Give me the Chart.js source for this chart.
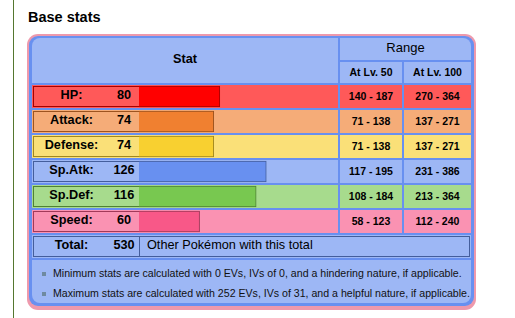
<!DOCTYPE html>
<html>
<head>
<meta charset="utf-8">
<script src="https://cdn.jsdelivr.net/npm/chart.js@4.4.1/dist/chart.umd.min.js"></script>
<style>
  body { margin: 0; background: #fff; font-family: "Liberation Sans", Arial, sans-serif; color: #000; }
  #page { position: relative; width: 515px; height: 318px; overflow: hidden; }
  .abs { position: absolute; box-sizing: border-box; white-space: nowrap; }
  .lbl { font-weight: bold; font-size: 12.7px; line-height: 21px; text-align: center; }
  .rng { font-weight: bold; font-size: 10.5px; line-height: 23px; text-align: center; }
  .note { font-size: 10.6px; line-height: 20px; color: #111; }
</style>
</head>
<body>
<div id="page">
  <div class="abs" style="left:13px;top:0;width:1px;height:318px;background:#55772f"></div>
  <div class="abs" style="left:28px;top:0;font-weight:bold;font-size:14.5px;line-height:34px">Base stats</div>

  <!-- table frame -->
  <div class="abs" style="left:27px;top:34px;width:449px;height:276px;background:#EE99AC;border-radius:11px"></div>
  <div class="abs" style="left:29px;top:36px;width:445px;height:270px;background:#6890F0;border-radius:9px"></div>

  <!-- header -->
  <div class="abs lbl" style="left:32px;top:38px;width:306px;height:45px;line-height:43px;background:#9DB7F5;border-top-left-radius:8px">Stat</div>
  <div class="abs" style="left:340px;top:38px;width:131px;height:22px;background:#9DB7F5;border-top-right-radius:8px;font-size:13px;line-height:19px;text-align:center">Range</div>
  <div class="abs rng" style="left:340px;top:62px;width:62px;height:21px;background:#9DB7F5;line-height:21px">At Lv. 50</div>
  <div class="abs rng" style="left:404px;top:62px;width:67px;height:21px;background:#9DB7F5;line-height:21px">At Lv. 100</div>

  <div id="rows"></div>

  <!-- total row -->
  <div class="abs" style="left:32px;top:235px;width:439px;height:23px;background:#9DB7F5"></div>
  <div class="abs" style="left:33px;top:236px;width:437px;height:21px;border:1px solid #445E9C"></div>
  <div class="abs" style="left:139px;top:236px;width:1px;height:21px;background:#445E9C"></div>
  <div class="abs lbl" id="totalLabel" style="left:33px;top:235px;width:77px;height:23px">Total:</div>
  <div class="abs lbl" id="totalValue" style="left:110px;top:235px;width:28px;height:23px"></div>
  <div class="abs" style="left:147px;top:235px;font-size:12.7px;line-height:21px">Other Pokémon with this total</div>

  <!-- footer -->
  <div class="abs" style="left:32px;top:260px;width:439px;height:43px;background:#9DB7F5;border-bottom-left-radius:8px;border-bottom-right-radius:8px"></div>
  <div class="abs" style="left:42px;top:272px;width:4px;height:4px;background:#6f8aa0"></div>
  <div class="abs" style="left:42px;top:292px;width:4px;height:4px;background:#6f8aa0"></div>
  <div class="abs note" style="left:53px;top:263px">Minimum stats are calculated with 0 EVs, IVs of 0, and a hindering nature, if applicable.</div>
  <div class="abs note" style="left:53px;top:283px">Maximum stats are calculated with 252 EVs, IVs of 31, and a helpful nature, if applicable.</div>

  <canvas id="statChart" class="abs" width="199" height="150" style="left:139px;top:84px;width:199px;height:150px"></canvas>
</div>

<script>
  // data
  const statLabels = ['HP:', 'Attack:', 'Defense:', 'Sp.Atk:', 'Sp.Def:', 'Speed:'];
  const baseStats = [80, 74, 74, 126, 116, 60];
  const lv50Min = [140, 71, 71, 117, 108, 58];
  const lv50Max = [187, 138, 138, 195, 184, 123];
  const lv100Min = [270, 137, 137, 231, 213, 112];
  const lv100Max = [364, 271, 271, 386, 364, 240];
  const totalStat = 530;

  // colours per stat
  const barColors = ['#FF0000', '#F08030', '#F8D030', '#6890F0', '#78C850', '#F85888'];
  const lightColors = ['#FF5959', '#F5AC78', '#FAE078', '#9DB7F5', '#A7DB8D', '#FA92B2'];
  const darkColors = ['#A60000', '#9C531F', '#A1871F', '#445E9C', '#4E8234', '#A13959'];

  const rows = document.getElementById('rows');
  statLabels.forEach(function (name, i) {
    const top = 85 + i * 25;
    const c = lightColors[i];
    rows.insertAdjacentHTML('beforeend',
      '<div class="abs" style="left:32px;top:' + top + 'px;width:306px;height:23px;background:' + c + '"></div>' +
      '<div class="abs" style="left:340px;top:' + top + 'px;width:62px;height:23px;background:' + c + '"></div>' +
      '<div class="abs" style="left:404px;top:' + top + 'px;width:67px;height:23px;background:' + c + '"></div>' +
      '<div class="abs" style="left:33px;top:' + (top + 1) + 'px;width:106px;height:21px;border:1px solid ' + darkColors[i] + ';border-right:none"></div>' +
      '<div class="abs lbl" style="left:33px;top:' + top + 'px;width:77px;height:23px">' + name + '</div>' +
      '<div class="abs lbl" style="left:110px;top:' + top + 'px;width:28px;height:23px">' + baseStats[i] + '</div>' +
      '<div class="abs rng" style="left:340px;top:' + top + 'px;width:62px;height:23px">' + lv50Min[i] + ' - ' + lv50Max[i] + '</div>' +
      '<div class="abs rng" style="left:404px;top:' + top + 'px;width:67px;height:23px">' + lv100Min[i] + ' - ' + lv100Max[i] + '</div>');
  });
  document.getElementById('totalValue').textContent = totalStat;

  // stat bars
  const ctx = document.getElementById('statChart').getContext('2d');
  new Chart(ctx, {
    type: 'bar',
    data: {
      labels: statLabels,
      datasets: [{
        data: baseStats,
        backgroundColor: barColors,
        borderColor: darkColors,
        borderWidth: 1,
        borderSkipped: 'start',
        barThickness: 21
      }]
    },
    options: {
      indexAxis: 'y',
      responsive: false,
      animation: false,
      layout: { padding: 0 },
      plugins: { legend: { display: false }, tooltip: { enabled: false } },
      scales: {
        x: { display: false, min: 0, max: 197 },
        y: { display: false }
      }
    }
  });
</script>
</body>
</html>
